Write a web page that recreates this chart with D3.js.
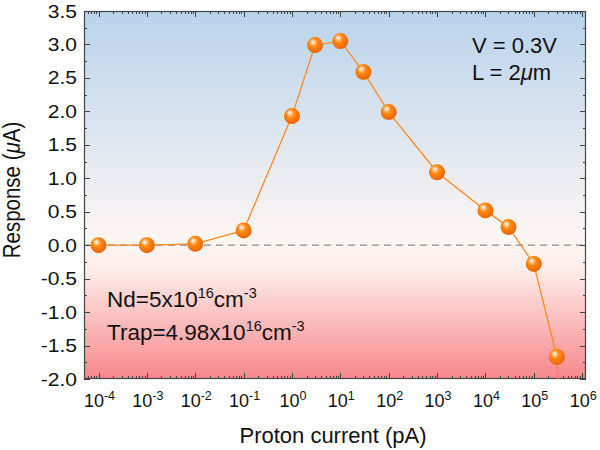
<!DOCTYPE html>
<html><head><meta charset="utf-8">
<script src="https://cdn.jsdelivr.net/npm/d3@7"></script>
<style>body{margin:0;background:#fff}svg{display:block}text{font-family:"Liberation Sans",Arial,sans-serif;fill:#111}</style>
</head><body>
<script>
const protonCurrent = [1e-4, 1e-3, 1e-2, 1e-1, 1, 3, 10, 30, 100, 1000, 1e4, 3e4, 1e5, 3e5, 1e6];
const response = [0.0, 0.0, 0.02, 0.22, 1.93, 2.99, 3.05, 2.59, 1.99, 1.09, 0.52, 0.27, -0.28, -1.67, -10.0];
const xTickExps = [-4, -3, -2, -1, 0, 1, 2, 3, 4, 5, 6];
const yTicks = [-2.0, -1.5, -1.0, -0.5, 0.0, 0.5, 1.0, 1.5, 2.0, 2.5, 3.0, 3.5];

const W = 600, H = 450;
const m = {l: 84, r: 14, t: 11, b: 71};
const svg = d3.select("body").append("svg").attr("width", W).attr("height", H);
const x = d3.scaleLog().domain([Math.pow(10, -4.3), Math.pow(10, 6.08)]).range([m.l, W - m.r]);
const y = d3.scaleLinear().domain([-2.0, 3.5]).range([H - m.b, m.t]);
const defs = svg.append("defs");

const bg = defs.append("linearGradient").attr("id", "bg").attr("x1", 0).attr("y1", 0).attr("x2", 0).attr("y2", 1);
bg.append("stop").attr("offset", "0%").attr("stop-color", "#b9d3ec");
bg.append("stop").attr("offset", "62%").attr("stop-color", "#fdf6f3");
bg.append("stop").attr("offset", "70%").attr("stop-color", "#fdeeea");
bg.append("stop").attr("offset", "100%").attr("stop-color", "#f8878b");

const ball = defs.append("radialGradient").attr("id", "ball").attr("cx", "42%").attr("cy", "38%").attr("r", "62%").attr("fx", "36%").attr("fy", "30%");
ball.append("stop").attr("offset", "0%").attr("stop-color", "#ffffff");
ball.append("stop").attr("offset", "14%").attr("stop-color", "#ffd6ae");
ball.append("stop").attr("offset", "42%").attr("stop-color", "#ff8a10");
ball.append("stop").attr("offset", "100%").attr("stop-color", "#e86400");

defs.append("clipPath").attr("id", "clip").append("rect")
  .attr("x", m.l).attr("y", m.t).attr("width", W - m.l - m.r).attr("height", H - m.t - m.b);

svg.append("rect").attr("x", m.l).attr("y", m.t).attr("width", W - m.l - m.r).attr("height", H - m.t - m.b).attr("fill", "url(#bg)");

// zero dashed line
svg.append("line").attr("x1", m.l).attr("x2", W - m.r).attr("y1", y(0)).attr("y2", y(0))
  .attr("stroke", "#8a8a8a").attr("stroke-width", 1.3).attr("stroke-dasharray", "7,5");

// ticks
const minorX = [];
for (let e = -5; e <= 6; e++) for (let k = 2; k <= 9; k++) { const v = k * Math.pow(10, e); if (v > x.domain()[0] && v < x.domain()[1]) minorX.push(v); }
const majorX = xTickExps.map(e => Math.pow(10, e));
const minorY = d3.range(-2.0, 3.5001, 0.25).filter(v => Math.abs(v * 2 - Math.round(v * 2)) > 1e-6);
const tk = svg.append("g").attr("stroke", "#444").attr("stroke-width", 1);
const yb = H - m.b, yt = m.t, xl = m.l, xr = W - m.r;
majorX.forEach(v => { const px = Math.round(x(v)) + 0.5;
  tk.append("line").attr("x1", px).attr("x2", px).attr("y1", yb).attr("y2", yb - 6);
  tk.append("line").attr("x1", px).attr("x2", px).attr("y1", yt).attr("y2", yt + 6); });
minorX.forEach(v => { const px = Math.round(x(v)) + 0.5;
  tk.append("line").attr("x1", px).attr("x2", px).attr("y1", yb).attr("y2", yb - 3);
  tk.append("line").attr("x1", px).attr("x2", px).attr("y1", yt).attr("y2", yt + 3); });
yTicks.forEach(v => { const py = Math.round(y(v)) + 0.5;
  tk.append("line").attr("x1", xl).attr("x2", xl + 6).attr("y1", py).attr("y2", py);
  tk.append("line").attr("x1", xr).attr("x2", xr - 6).attr("y1", py).attr("y2", py); });
minorY.forEach(v => { const py = Math.round(y(v)) + 0.5;
  tk.append("line").attr("x1", xl).attr("x2", xl + 3).attr("y1", py).attr("y2", py);
  tk.append("line").attr("x1", xr).attr("x2", xr - 3).attr("y1", py).attr("y2", py); });

// frame
svg.append("rect").attr("x", m.l + 0.5).attr("y", m.t + 0.5).attr("width", W - m.l - m.r - 1).attr("height", H - m.t - m.b - 1)
  .attr("fill", "none").attr("stroke", "#444").attr("stroke-width", 1.2);

// y tick labels
svg.append("g").selectAll("text").data(yTicks).join("text")
  .attr("transform", d => `translate(${m.l - 7},${y(d) + 6.5}) scale(1.17,1)`)
  .attr("text-anchor", "end").attr("font-size", 18)
  .text(d => d.toFixed(1));

// x tick labels 10^n
const xl_g = svg.append("g");
xTickExps.forEach(e => {
  const t = xl_g.append("text").attr("x", x(Math.pow(10, e)) + 1).attr("y", 407).attr("text-anchor", "middle").attr("font-size", 18);
  t.append("tspan").text("10");
  t.append("tspan").attr("dy", -7).attr("font-size", 12.5).text(String(e));
});

// axis titles
svg.append("text").attr("x", 333).attr("y", 443).attr("text-anchor", "middle").attr("font-size", 22).text("Proton current (pA)");
const yt_t = svg.append("text").attr("transform", `translate(20,190) scale(1.15,1) rotate(-90)`).attr("text-anchor", "middle").attr("font-size", 20.5);
yt_t.append("tspan").text("Response (");
yt_t.append("tspan").attr("font-style", "italic").text("μ");
yt_t.append("tspan").text("A)");

// line and markers
const plot = svg.append("g").attr("clip-path", "url(#clip)");
const pts = protonCurrent.map((c, i) => [c, response[i]]);
plot.append("path").datum(pts)
  .attr("d", d3.line().x(d => x(d[0])).y(d => y(d[1])))
  .attr("fill", "none").attr("stroke", "#ff8a1e").attr("stroke-width", 1.3);
plot.selectAll("circle").data(pts).join("circle")
  .attr("cx", d => x(d[0])).attr("cy", d => y(d[1])).attr("r", 8).attr("fill", "url(#ball)");

// annotations
svg.append("text").attr("x", 472).attr("y", 53).attr("font-size", 22).text("V = 0.3V");
const lt = svg.append("text").attr("x", 472).attr("y", 80).attr("font-size", 22);
lt.append("tspan").text("L = 2");
lt.append("tspan").attr("font-style", "italic").text("μ");
lt.append("tspan").text("m");

const n1 = svg.append("text").attr("x", 107).attr("y", 307).attr("font-size", 22.5);
n1.append("tspan").text("Nd=5x10");
n1.append("tspan").attr("dy", -9).attr("font-size", 14.5).text("16");
n1.append("tspan").attr("dy", 9).text("cm");
n1.append("tspan").attr("dy", -9).attr("font-size", 14.5).text("-3");
const n2 = svg.append("text").attr("x", 107).attr("y", 340).attr("font-size", 22.5);
n2.append("tspan").text("Trap=4.98x10");
n2.append("tspan").attr("dy", -9).attr("font-size", 14.5).text("16");
n2.append("tspan").attr("dy", 9).text("cm");
n2.append("tspan").attr("dy", -9).attr("font-size", 14.5).text("-3");
</script>
</body></html>
